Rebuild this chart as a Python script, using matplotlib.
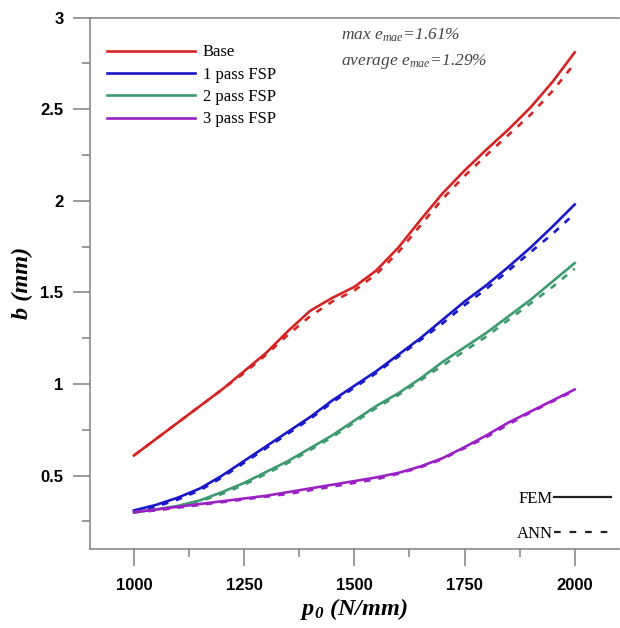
import matplotlib
matplotlib.use('Agg')
import matplotlib.pyplot as plt
from matplotlib.lines import Line2D
from matplotlib.ticker import MultipleLocator
import numpy as np

plt.rcParams['mathtext.fontset'] = 'custom'
plt.rcParams['mathtext.rm'] = 'Liberation Serif'
plt.rcParams['mathtext.it'] = 'Liberation Serif:italic'
plt.rcParams['mathtext.bf'] = 'Liberation Serif:italic:bold'

# data
p0 = np.arange(1000, 2001, 50)
base_fem = [0.61, 0.70, 0.79, 0.88, 0.97, 1.07, 1.17, 1.29, 1.40, 1.47, 1.53,
            1.62, 1.745, 1.895, 2.04, 2.165, 2.28, 2.39, 2.51, 2.65, 2.81]
base_ann = [0.61, 0.70, 0.79, 0.88, 0.97, 1.06, 1.16, 1.27, 1.37, 1.45, 1.51,
            1.60, 1.72, 1.865, 2.01, 2.135, 2.25, 2.36, 2.47, 2.60, 2.75]
fsp1_fem = [0.31, 0.34, 0.38, 0.43, 0.50, 0.58, 0.66, 0.74, 0.82, 0.91, 0.99,
            1.07, 1.16, 1.25, 1.35, 1.45, 1.54, 1.64, 1.745, 1.86, 1.98]
fsp1_ann = [0.30, 0.33, 0.37, 0.42, 0.49, 0.57, 0.65, 0.73, 0.81, 0.90, 0.98,
            1.06, 1.15, 1.24, 1.33, 1.43, 1.52, 1.62, 1.72, 1.82, 1.93]
fsp2_fem = [0.30, 0.315, 0.335, 0.365, 0.41, 0.46, 0.52, 0.58, 0.65, 0.72, 0.80,
            0.88, 0.95, 1.03, 1.12, 1.20, 1.28, 1.37, 1.46, 1.56, 1.66]
fsp2_ann = [0.30, 0.31, 0.33, 0.36, 0.40, 0.45, 0.51, 0.57, 0.64, 0.71, 0.79,
            0.87, 0.94, 1.02, 1.10, 1.18, 1.26, 1.35, 1.44, 1.53, 1.63]
fsp3_fem = [0.30, 0.315, 0.33, 0.345, 0.36, 0.375, 0.39, 0.41, 0.43, 0.45, 0.47,
            0.49, 0.515, 0.55, 0.595, 0.655, 0.72, 0.79, 0.85, 0.91, 0.97]
fsp3_ann = [0.30, 0.31, 0.325, 0.34, 0.355, 0.37, 0.385, 0.40, 0.42, 0.44, 0.46,
            0.48, 0.51, 0.545, 0.59, 0.65, 0.71, 0.78, 0.845, 0.905, 0.965]

labels = ['Base', '1 pass FSP', '2 pass FSP', '3 pass FSP']
colors = ['#d42424', '#1818c8', '#3f9a72', '#9a22c4']
fem = [base_fem, fsp1_fem, fsp2_fem, fsp3_fem]
ann = [base_ann, fsp1_ann, fsp2_ann, fsp3_ann]

GREY = '#808080'

fig = plt.figure(figsize=(6.2, 6.28), dpi=100)
ax = fig.add_axes([0.145, 0.126, 0.853, 0.846])

handles = []
for lab, col, f, a in zip(labels, colors, fem, ann):
    h, = ax.plot(p0, f, color=col, lw=1.9, label=lab)
    ax.plot(p0, a, color=col, lw=1.9, dashes=(2.5, 3))
    handles.append(h)

ax.set_xlim(900, 2100)
ax.set_ylim(0.1, 3)
ax.xaxis.set_major_locator(MultipleLocator(250))
ax.xaxis.set_minor_locator(MultipleLocator(125))
ax.yaxis.set_minor_locator(MultipleLocator(0.25))
ax.set_yticks([0.5, 1, 1.5, 2, 2.5, 3])
ax.set_yticklabels(['0.5', '1', '1.5', '2', '2.5', '3'])

for s in ['left', 'bottom', 'top']:
    ax.spines[s].set_color(GREY)
    ax.spines[s].set_linewidth(1.1)
ax.spines['right'].set_visible(False)

ax.tick_params(axis='x', which='major', pad=9)
ax.tick_params(axis='y', which='major', pad=7)
ax.tick_params(which='major', direction='out', length=12, width=1.1, color=GREY,
               labelsize=12)
ax.tick_params(which='minor', direction='out', length=6, width=1.1, color=GREY)
ax.tick_params(top=False, right=False, which='both')
for t in ax.get_xticklabels() + ax.get_yticklabels():
    t.set_fontfamily('Liberation Sans')
    t.set_fontweight('bold')

ax.set_xlabel(r'$\mathbf{p_0}$ (N/mm)', fontsize=17.5, fontfamily='Liberation Serif',
              fontweight='bold', fontstyle='italic', labelpad=2)
ax.set_ylabel('b (mm)', fontsize=17.5, fontfamily='Liberation Serif',
              fontweight='bold', fontstyle='italic', labelpad=5)

leg1 = ax.legend(handles=handles, loc='upper left', bbox_to_anchor=(0.02, 0.962),
                 frameon=False, handlelength=5.3, handletextpad=0.45, labelspacing=0.38,
                 borderaxespad=0, prop={'family': 'Liberation Serif', 'size': 12})
ax.add_artist(leg1)

fem_h = Line2D([], [], color='#222222', lw=1.6)
ann_h = Line2D([], [], color='#222222', lw=1.6, dashes=(3, 4))
ax.legend([fem_h, ann_h], ['FEM', 'ANN'], loc='lower right', bbox_to_anchor=(0.997, 0.0),
          frameon=False, markerfirst=False, handlelength=3.4, handletextpad=0.05,
          labelspacing=1.15, borderaxespad=0,
          prop={'family': 'Liberation Serif', 'size': 12})

ax.text(0.474, 0.967, r'max $e_{mae}$=1.61%', transform=ax.transAxes, fontsize=12.5,
        fontfamily='Liberation Serif', fontstyle='italic', color='#444444', va='center')
ax.text(0.474, 0.918, r'average $e_{mae}$=1.29%', transform=ax.transAxes, fontsize=12.5,
        fontfamily='Liberation Serif', fontstyle='italic', color='#444444', va='center')

plt.savefig('out.png', dpi=100, facecolor='white')
plt.close()
